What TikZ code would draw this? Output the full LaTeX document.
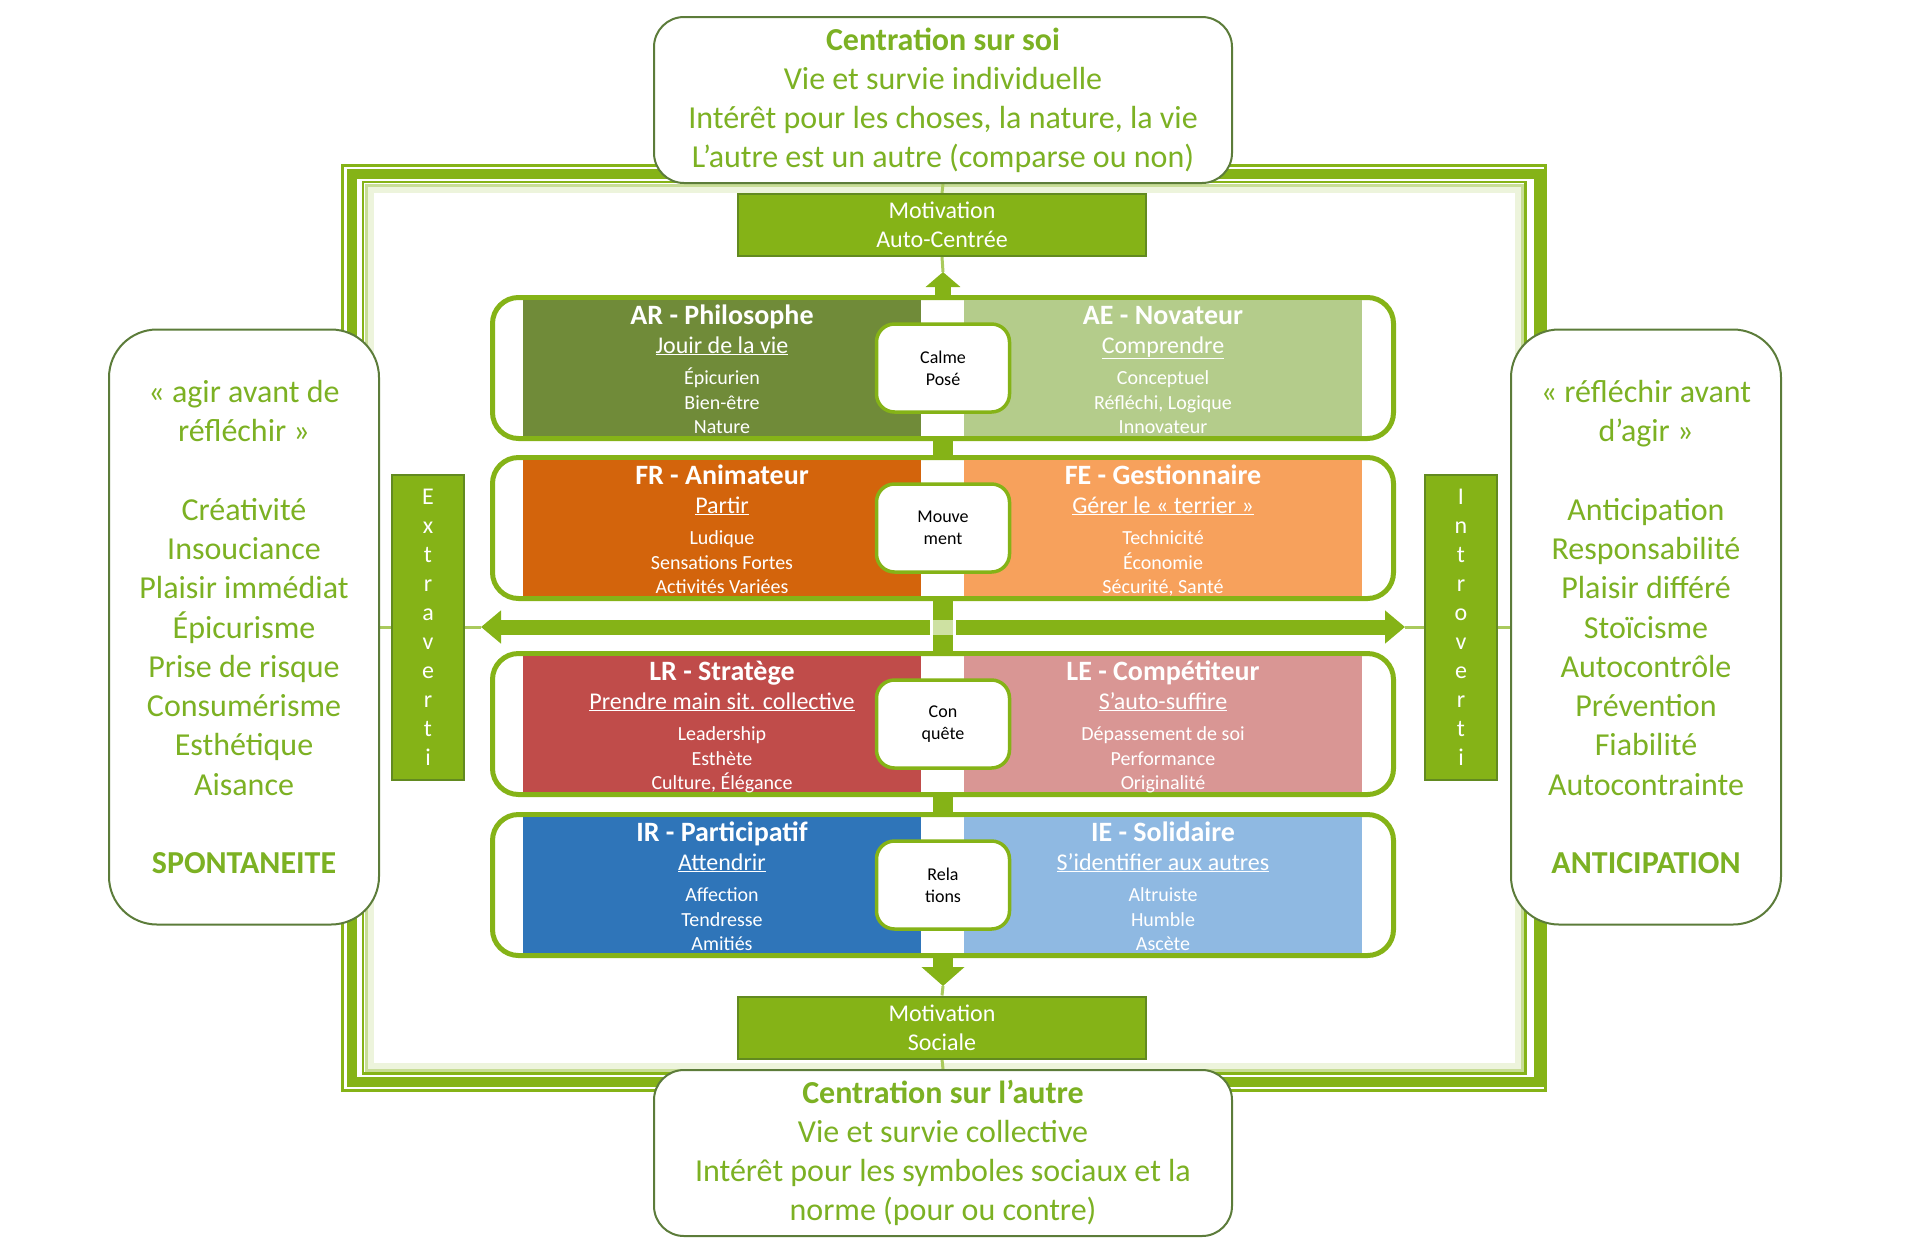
\documentclass[tikz,border=0pt]{standalone}
\usepackage{fontspec}
\setmainfont{Carlito}
\usetikzlibrary{arrows.meta, positioning, calc, backgrounds}
\definecolor{mgreen}{RGB}{133,179,23}
\definecolor{dgreen}{RGB}{98,138,32}
\definecolor{tgreen}{RGB}{124,177,35}
\definecolor{boxline}{RGB}{92,124,58}
\definecolor{arfill}{RGB}{112,139,57}
\definecolor{aefill}{RGB}{180,204,139}
\definecolor{frfill}{RGB}{211,100,12}
\definecolor{fefill}{RGB}{247,161,92}
\definecolor{lrfill}{RGB}{192,76,74}
\definecolor{lefill}{RGB}{217,150,148}
\definecolor{irfill}{RGB}{47,117,185}
\definecolor{iefill}{RGB}{143,185,226}

\tikzset{
  bigbox/.style={draw=boxline, line width=2pt, fill=white, rounded corners=30pt, align=center,
    text=tgreen, inner sep=0pt, minimum width=578pt, minimum height=166pt,
    font=\fontsize{32}{39}\selectfont},
  sidebox/.style={bigbox, rounded corners=48pt, minimum width=270pt, minimum height=595pt,
    font=\fontsize{32}{39.3}\selectfont},
  motbox/.style={fill=mgreen, draw=dgreen, line width=2pt, text=white, align=center, inner sep=0pt,
    minimum width=408pt, minimum height=62pt, font=\fontsize{24}{29}\selectfont},
  vbar/.style={fill=mgreen, draw=dgreen, line width=2pt, text=white, align=center, inner sep=0pt,
    minimum width=72pt, minimum height=305pt, font=\fontsize{24}{29}\selectfont},
  rowframe/.style={draw=mgreen, line width=5pt, fill=white, rounded corners=26pt, inner sep=0pt,
    minimum width=901pt, minimum height=141pt},
  midbox/.style={draw=mgreen, line width=3.5pt, fill=white, rounded corners=18pt, inner sep=0pt,
    minimum width=133pt, minimum height=88pt, align=center, font=\fontsize{18}{22}\selectfont},
  qtitle/.style={anchor=base, text=white, inner sep=0pt, font=\fontsize{28}{34}\selectfont\bfseries},
  qsub/.style={anchor=base, text=white, inner sep=0pt, font=\fontsize{24}{29}\selectfont},
  qitem/.style={anchor=base, text=white, inner sep=0pt, font=\fontsize{20}{24}\selectfont},
  thinline/.style={mgreen!70, line width=3pt},
  fatarrow/.style={mgreen, line width=#1}
}

\begin{document}
\begin{tikzpicture}[x=1pt, y=-1pt]
  \useasboundingbox (0,0) rectangle (1920,1254);

  \node[bigbox] (soi) at (943,100) {\textbf{Centration sur soi}\\Vie et survie individuelle\\Intérêt pour les choses, la nature, la vie\\L’autre est un autre (comparse ou non)};
  \node[bigbox] (autre) at (943,1153) {\textbf{Centration sur l’autre}\\Vie et survie collective\\Intérêt pour les symboles sociaux et la\\norme (pour ou contre)};
  \node[motbox] (motA) at (942,225) {Motivation\\Auto-Centrée};
  \node[motbox] (motS) at (942,1027.5) {Motivation\\Sociale};
  \node[sidebox] (spont) at (244,627) {« agir avant de\\réfléchir »\\[39pt]Créativité\\Insouciance\\Plaisir immédiat\\Épicurisme\\Prise de risque\\Consumérisme\\Esthétique\\Aisance\\[39pt]\textbf{SPONTANEITE}};
  \node[sidebox] (antic) at (1646,627) {« réfléchir avant\\d’agir »\\[39pt]Anticipation\\Responsabilité\\Plaisir différé\\Stoïcisme\\Autocontrôle\\Prévention\\Fiabilité\\Autocontrainte\\[39pt]\textbf{ANTICIPATION}};
  \node[vbar] (extra) at (428,627) {E\\x\\t\\r\\a\\v\\e\\r\\t\\i};
  \node[vbar] (intro) at (1461,627) {I\\n\\t\\r\\o\\v\\e\\r\\t\\i};

  \foreach \r/\y in {1/368, 2/528, 3/724, 4/885}
    \node[rowframe] (row\r) at (943,\y) {};

  \foreach \q/\x/\y/\col/\ttl/\sub/\ia/\ib/\ic in {
    ar/722/295/arfill/{AR - Philosophe}/{Jouir de la vie}/Épicurien/Bien-être/Nature,
    ae/1163/295/aefill/{AE - Novateur}/{Comprendre}/Conceptuel/{Réfléchi, Logique}/Innovateur,
    fr/722/455/frfill/{FR - Animateur}/{Partir}/Ludique/{Sensations Fortes}/{Activités Variées},
    fe/1163/455/fefill/{FE - Gestionnaire}/{Gérer le « terrier »}/Technicité/Économie/{Sécurité, Santé},
    lr/722/651/lrfill/{LR - Stratège}/{Prendre main sit. collective}/Leadership/Esthète/{Culture, Élégance},
    le/1163/651/lefill/{LE - Compétiteur}/{S’auto-suffire}/{Dépassement de soi}/Performance/Originalité,
    ir/722/812/irfill/{IR - Participatif}/{Attendrir}/Affection/Tendresse/Amitiés,
    ie/1163/812/iefill/{IE - Solidaire}/{S’identifier aux autres}/Altruiste/Humble/Ascète
  }{
    \fill[\col] (\x-199,\y+5) rectangle (\x+199,\y+141);
    \node[qtitle] (\q-h) at (\x,\y+29) {\ttl};
    \node[qsub] (\q-s) at (\x,\y+58) {\underline{\sub}};
    \node[qitem] (\q-a) at (\x,\y+89) {\ia};
    \node[qitem] (\q-b) at (\x,\y+114) {\ib};
    \node[qitem] (\q-c) at (\x,\y+138) {\ic};
  }

  \foreach \m/\y/\txt in {cp/368/{Calme\\Posé}, mv/528/{Mouve\\ment}, cq/724/{Con\\quête}, rl/885/{Rela\\tions}}
    \node[midbox] (\m) at (943,\y) {\txt};

  \coordinate (tipA) at (943,272);
  \coordinate (tipS) at (943,986);
  \coordinate (hl) at (481,627);
  \coordinate (hr) at (1405,627);
  \coordinate (cl) at (930,627);
  \coordinate (cr) at (956,627);

  \begin{scope}[on background layer]
    \draw[mgreen, line width=3pt] (342,165.5) rectangle (1545.5,1090.5);
    \draw[mgreen, line width=10pt] (352,174) rectangle (1538.5,1082);
    \draw[mgreen, line width=2.5pt] (363,182) rectangle (1525.5,1073.5);
    \draw[mgreen!45, line width=3pt] (366,185) rectangle (1522.5,1070.5);
    \draw[mgreen!15, line width=6pt] (370.5,189.5) rectangle (1518,1066);

    \draw[thinline] (soi.south) -- (motA.north);
    \draw[thinline] (motA.south) -- (tipA);
    \draw[thinline] (tipS) -- (motS.north);
    \draw[thinline] (motS.south) -- (autre.north);
    \draw[thinline] (spont.east) -- (extra.west);
    \draw[thinline] (extra.east) -- (hl);
    \draw[thinline] (hr) -- (intro.west);
    \draw[thinline] (intro.east) -- (antic.west);

    \draw[fatarrow=20pt] (row1.north) -- (row4.south);
    \draw[fatarrow=16pt, -{Triangle[width=34pt, length=15pt]}] (row1.north) -- (tipA);
    \draw[fatarrow=20pt, -{Triangle[width=42pt, length=19pt]}] (row4.south) -- (tipS);
    \draw[fatarrow=15pt, -{Triangle[width=32pt, length=20pt]}] (cl) -- (hl);
    \draw[fatarrow=15pt, -{Triangle[width=32pt, length=20pt]}] (cr) -- (hr);
    \fill[mgreen!40] (933,619.5) rectangle (953,634.5);
  \end{scope}
\end{tikzpicture}
\end{document}
